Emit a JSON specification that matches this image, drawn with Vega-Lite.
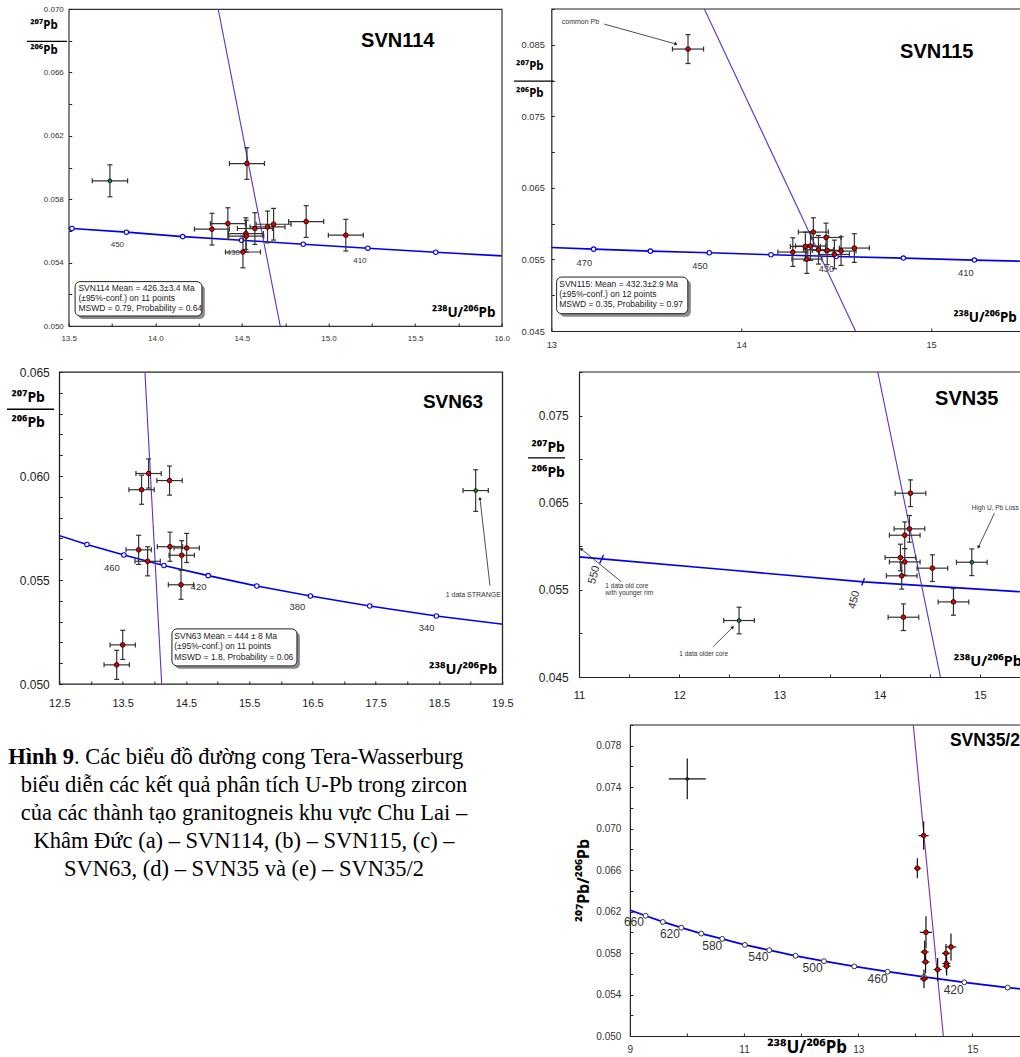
{
"$schema": "https://vega.github.io/schema/vega-lite/v6.json",
"padding": 0,
"background": "white",
"bounds": "full",
"align": "none",
"columns": 1,
"spacing": 0,
"config": {
  "font": "Liberation Sans",
  "view": {"stroke": "#222", "strokeWidth": 1.2},
  "axis": {"grid": false, "domain": false, "domainColor": "#222", "domainWidth": 1.2, "tickColor": "#222", "tickWidth": 1, "labelColor": "#333", "labelFont": "Liberation Sans", "titleFont": "Noto Sans", "titleColor": "#000", "labelOverlap": false, "labelFlush": false, "labelBound": false},
  "text": {"font": "Liberation Sans"}
},
"datasets": {
  "p114": [
    {"k":"other","x":13.738,"y":0.05916,"xlo":13.636,"xhi":13.84,"ylo":0.05815,"yhi":0.06017},
    {"k":"conc","x":14.529,"y":0.06025,"xlo":14.428,"xhi":14.63,"ylo":0.05925,"yhi":0.06125},
    {"k":"conc","x":14.327,"y":0.05611,"xlo":14.226,"xhi":14.428,"ylo":0.05511,"yhi":0.05711},
    {"k":"conc","x":14.419,"y":0.05646,"xlo":14.318,"xhi":14.52,"ylo":0.05546,"yhi":0.05746},
    {"k":"conc","x":14.523,"y":0.05583,"xlo":14.422,"xhi":14.624,"ylo":0.05483,"yhi":0.05683},
    {"k":"conc","x":14.525,"y":0.05567,"xlo":14.424,"xhi":14.626,"ylo":0.05467,"yhi":0.05667},
    {"k":"conc","x":14.506,"y":0.05467,"xlo":14.405,"xhi":14.607,"ylo":0.05367,"yhi":0.05567},
    {"k":"conc","x":14.575,"y":0.05615,"xlo":14.474,"xhi":14.676,"ylo":0.05515,"yhi":0.05715},
    {"k":"conc","x":14.648,"y":0.05625,"xlo":14.547,"xhi":14.749,"ylo":0.05525,"yhi":0.05725},
    {"k":"conc","x":14.683,"y":0.05642,"xlo":14.582,"xhi":14.784,"ylo":0.05542,"yhi":0.05742},
    {"k":"conc","x":14.871,"y":0.05659,"xlo":14.77,"xhi":14.972,"ylo":0.05559,"yhi":0.05759},
    {"k":"conc","x":15.1,"y":0.05573,"xlo":14.999,"xhi":15.201,"ylo":0.05473,"yhi":0.05673}
  ],
  "c114": [{"x":13.485,"y":0.05617},{"x":13.519,"y":0.05615},{"x":13.833,"y":0.05592},{"x":14.158,"y":0.05564},{"x":14.498,"y":0.05541},{"x":14.854,"y":0.05516},{"x":15.227,"y":0.05491},{"x":15.619,"y":0.05465},{"x":16.013,"y":0.05442}],
  "m114": [{"age":460,"x":13.519,"y":0.05615},{"age":450,"x":13.833,"y":0.05592},{"age":440,"x":14.158,"y":0.05564},{"age":430,"x":14.498,"y":0.05541},{"age":420,"x":14.854,"y":0.05516},{"age":410,"x":15.227,"y":0.05491},{"age":400,"x":15.619,"y":0.05465}],
  "p115": [
    {"k":"conc","x":13.72,"y":0.0844,"xlo":13.638,"xhi":13.802,"ylo":0.08238,"yhi":0.08642},
    {"k":"conc","x":14.272,"y":0.05603,"xlo":14.193,"xhi":14.351,"ylo":0.05403,"yhi":0.05803},
    {"k":"conc","x":14.338,"y":0.05681,"xlo":14.259,"xhi":14.417,"ylo":0.05481,"yhi":0.05881},
    {"k":"conc","x":14.365,"y":0.05687,"xlo":14.286,"xhi":14.444,"ylo":0.05487,"yhi":0.05887},
    {"k":"conc","x":14.38,"y":0.05882,"xlo":14.301,"xhi":14.459,"ylo":0.05682,"yhi":0.06082},
    {"k":"conc","x":14.346,"y":0.05505,"xlo":14.267,"xhi":14.425,"ylo":0.05305,"yhi":0.05705},
    {"k":"conc","x":14.407,"y":0.05635,"xlo":14.328,"xhi":14.486,"ylo":0.05435,"yhi":0.05835},
    {"k":"conc","x":14.447,"y":0.05807,"xlo":14.368,"xhi":14.526,"ylo":0.05607,"yhi":0.06007},
    {"k":"conc","x":14.453,"y":0.05626,"xlo":14.374,"xhi":14.532,"ylo":0.05426,"yhi":0.05826},
    {"k":"conc","x":14.491,"y":0.0557,"xlo":14.412,"xhi":14.57,"ylo":0.0537,"yhi":0.0577},
    {"k":"conc","x":14.526,"y":0.05617,"xlo":14.447,"xhi":14.605,"ylo":0.05417,"yhi":0.05817},
    {"k":"conc","x":14.596,"y":0.05659,"xlo":14.517,"xhi":14.675,"ylo":0.05459,"yhi":0.05859}
  ],
  "c115": [{"x":12.99,"y":0.05667},{"x":13.223,"y":0.05644},{"x":13.522,"y":0.05616},{"x":13.832,"y":0.05593},{"x":14.157,"y":0.05565},{"x":14.5,"y":0.05542},{"x":14.854,"y":0.05519},{"x":15.228,"y":0.05491},{"x":15.55,"y":0.0547}],
  "m115": [{"age":470,"x":13.223,"y":0.05644},{"age":460,"x":13.522,"y":0.05616},{"age":450,"x":13.832,"y":0.05593},{"age":440,"x":14.157,"y":0.05565},{"age":430,"x":14.5,"y":0.05542},{"age":420,"x":14.854,"y":0.05519},{"age":410,"x":15.228,"y":0.05491}],
  "p63": [
    {"k":"conc","x":13.911,"y":0.06012,"xlo":13.711,"xhi":14.111,"ylo":0.05942,"yhi":0.06082},
    {"k":"conc","x":13.8,"y":0.05934,"xlo":13.6,"xhi":14.0,"ylo":0.05864,"yhi":0.06004},
    {"k":"conc","x":14.242,"y":0.05978,"xlo":14.042,"xhi":14.442,"ylo":0.05908,"yhi":0.06048},
    {"k":"conc","x":13.754,"y":0.05645,"xlo":13.554,"xhi":13.954,"ylo":0.05575,"yhi":0.05715},
    {"k":"conc","x":13.896,"y":0.0559,"xlo":13.696,"xhi":14.096,"ylo":0.0552,"yhi":0.0566},
    {"k":"conc","x":14.249,"y":0.0566,"xlo":14.049,"xhi":14.449,"ylo":0.0559,"yhi":0.0573},
    {"k":"conc","x":14.513,"y":0.05654,"xlo":14.313,"xhi":14.713,"ylo":0.05584,"yhi":0.05724},
    {"k":"conc","x":14.434,"y":0.05619,"xlo":14.234,"xhi":14.634,"ylo":0.05549,"yhi":0.05689},
    {"k":"conc","x":14.423,"y":0.05477,"xlo":14.223,"xhi":14.623,"ylo":0.05407,"yhi":0.05547},
    {"k":"conc","x":13.502,"y":0.05188,"xlo":13.302,"xhi":13.702,"ylo":0.05118,"yhi":0.05258},
    {"k":"conc","x":13.407,"y":0.05092,"xlo":13.207,"xhi":13.607,"ylo":0.05022,"yhi":0.05162},
    {"k":"other","x":19.079,"y":0.0593,"xlo":18.879,"xhi":19.279,"ylo":0.0583,"yhi":0.0603}
  ],
  "c63": [{"x":12.474,"y":0.05716},{"x":12.937,"y":0.05671},{"x":13.521,"y":0.0562},{"x":14.153,"y":0.0557},{"x":14.853,"y":0.05521},{"x":15.621,"y":0.05471},{"x":16.468,"y":0.05423},{"x":17.405,"y":0.05375},{"x":18.458,"y":0.05327},{"x":19.526,"y":0.05287}],
  "m63": [{"age":480,"x":12.937,"y":0.05671},{"age":460,"x":13.521,"y":0.0562},{"age":440,"x":14.153,"y":0.0557},{"age":420,"x":14.853,"y":0.05521},{"age":400,"x":15.621,"y":0.05471},{"age":380,"x":16.468,"y":0.05423},{"age":360,"x":17.405,"y":0.05375},{"age":340,"x":18.458,"y":0.05327}],
  "p35": [
    {"k":"conc","x":14.307,"y":0.06609,"xlo":14.154,"xhi":14.46,"ylo":0.06456,"yhi":0.06762},
    {"k":"conc","x":14.297,"y":0.062,"xlo":14.144,"xhi":14.45,"ylo":0.06047,"yhi":0.06353},
    {"k":"conc","x":14.25,"y":0.06127,"xlo":14.097,"xhi":14.403,"ylo":0.05974,"yhi":0.0628},
    {"k":"conc","x":14.207,"y":0.05871,"xlo":14.054,"xhi":14.36,"ylo":0.05718,"yhi":0.06024},
    {"k":"conc","x":14.25,"y":0.05821,"xlo":14.097,"xhi":14.403,"ylo":0.05668,"yhi":0.05974},
    {"k":"conc","x":14.22,"y":0.05661,"xlo":14.067,"xhi":14.373,"ylo":0.05508,"yhi":0.05814},
    {"k":"conc","x":14.526,"y":0.05749,"xlo":14.373,"xhi":14.679,"ylo":0.05596,"yhi":0.05902},
    {"k":"conc","x":14.736,"y":0.05362,"xlo":14.583,"xhi":14.889,"ylo":0.05209,"yhi":0.05515},
    {"k":"conc","x":14.237,"y":0.05186,"xlo":14.084,"xhi":14.39,"ylo":0.05033,"yhi":0.05339},
    {"k":"other","x":14.919,"y":0.05817,"xlo":14.766,"xhi":15.072,"ylo":0.05664,"yhi":0.0597},
    {"k":"other","x":12.597,"y":0.05148,"xlo":12.444,"xhi":12.75,"ylo":0.04995,"yhi":0.05301}
  ],
  "c35": [{"x":10.97,"y":0.05882},{"x":11.226,"y":0.05856},{"x":12.5,"y":0.05727},{"x":13.838,"y":0.05592},{"x":15.411,"y":0.05477}],
  "p352": [
    {"k":"inh","x":10.005,"y":0.0748,"xlo":9.681,"xhi":10.329,"ylo":0.07283,"yhi":0.07677},
    {"k":"conc","x":14.146,"y":0.06933,"xlo":14.058,"xhi":14.234,"ylo":0.06796,"yhi":0.0707},
    {"k":"conc","x":14.036,"y":0.06618,"xlo":13.976,"xhi":14.096,"ylo":0.06522,"yhi":0.06714},
    {"k":"conc","x":14.187,"y":0.06,"xlo":14.079,"xhi":14.295,"ylo":0.05845,"yhi":0.06155},
    {"k":"conc","x":14.164,"y":0.0581,"xlo":14.094,"xhi":14.234,"ylo":0.057,"yhi":0.0592},
    {"k":"conc","x":14.18,"y":0.05714,"xlo":14.11,"xhi":14.25,"ylo":0.05604,"yhi":0.05824},
    {"k":"conc","x":14.152,"y":0.05551,"xlo":14.082,"xhi":14.222,"ylo":0.05461,"yhi":0.05641},
    {"k":"conc","x":14.391,"y":0.05641,"xlo":14.321,"xhi":14.461,"ylo":0.05529,"yhi":0.05753},
    {"k":"conc","x":14.537,"y":0.05798,"xlo":14.467,"xhi":14.607,"ylo":0.05708,"yhi":0.05888},
    {"k":"conc","x":14.544,"y":0.05699,"xlo":14.474,"xhi":14.614,"ylo":0.05609,"yhi":0.05789},
    {"k":"conc","x":14.549,"y":0.05673,"xlo":14.479,"xhi":14.619,"ylo":0.05583,"yhi":0.05763},
    {"k":"conc","x":14.625,"y":0.05859,"xlo":14.532,"xhi":14.718,"ylo":0.05729,"yhi":0.05989}
  ],
  "c352": [{"x":9.0,"y":0.06215},{"x":9.275,"y":0.0616},{"x":9.578,"y":0.061},{"x":9.9,"y":0.06045},{"x":10.25,"y":0.05988},{"x":10.618,"y":0.05937},{"x":11.015,"y":0.05879},{"x":11.442,"y":0.05828},{"x":11.903,"y":0.05774},{"x":12.4,"y":0.05722},{"x":12.931,"y":0.05671},{"x":13.515,"y":0.0562},{"x":14.152,"y":0.0557},{"x":14.859,"y":0.05518},{"x":15.618,"y":0.05467},{"x":15.9,"y":0.05452}],
  "m352": [{"age":660,"x":9.275,"y":0.0616},{"age":640,"x":9.578,"y":0.061},{"age":620,"x":9.9,"y":0.06045},{"age":600,"x":10.25,"y":0.05988},{"age":580,"x":10.618,"y":0.05937},{"age":560,"x":11.015,"y":0.05879},{"age":540,"x":11.442,"y":0.05828},{"age":520,"x":11.903,"y":0.05774},{"age":500,"x":12.4,"y":0.05722},{"age":480,"x":12.931,"y":0.05671},{"age":460,"x":13.515,"y":0.0562},{"age":440,"x":14.152,"y":0.0557},{"age":420,"x":14.859,"y":0.05518},{"age":400,"x":15.618,"y":0.05467}]
},
"concat": [
 {"bounds": "flush", "spacing": 66.7, "hconcat": [
  {"width": 1, "height": 1, "view": {"stroke": null}, "data": {"values": [{"a": 1}]}, "mark": {"type": "text", "text": ""}, "encoding": {}},
  {"bounds": "flush", "spacing": 49.6, "hconcat": [
   {"width": 433, "height": 317,
    "view": {"stroke": "#333", "strokeWidth": 1.2},
    "encoding": {
     "x": {"field": "x", "type": "quantitative", "scale": {"domain": [13.5, 16.0], "nice": false, "zero": false},
       "axis": {"values": [13.5,13.75,14,14.25,14.5,14.75,15,15.25,15.5,15.75,16], "format": ".1f", "labelExpr": "abs(datum.value*2-round(datum.value*2))<0.001 ? datum.label : ''", "tickSize": -3, "labelPadding": 11.7, "labelFontSize": 8, "title": null}},
     "y": {"field": "y", "type": "quantitative", "scale": {"domain": [0.05, 0.07], "nice": false, "zero": false},
       "axis": {"values": [0.05,0.052,0.054,0.056,0.058,0.06,0.062,0.064,0.066,0.068,0.07], "format": ".3f", "labelExpr": "indexof(['0.050','0.054','0.058','0.062','0.066','0.070'], datum.label) >= 0 ? datum.label : ''", "tickSize": -3, "labelPadding": 8.4, "labelFontSize": 8,
         "title": ["²⁰⁷Pb", "²⁰⁶Pb"], "titleAngle": 0, "titleAlign": "center", "titleBaseline": "middle", "titleX": -25.3, "titleY": 16, "titleFontSize": 11.5, "titleFontWeight": "bold", "titleLineHeight": 25.7}}
    },
    "layer": [
     {"data": {"values": [{"x":13.109,"y":0.070505,"y2":0.04817}]}, "mark": {"type": "rule", "strokeOpacity": 0, "color": "#fff"}, "encoding": {"y2": {"field": "y2"}}},
     {"data": {"name": "c114"}, "mark": {"type": "line", "color": "#0000ee", "strokeWidth": 1.6, "clip": true}},
     {"data": {"name": "m114"}, "mark": {"type": "point", "filled": true, "fill": "#ffffff", "stroke": "#0000ee", "strokeWidth": 1.1, "size": 20, "opacity": 1}},
     {"data": {"values": [{"t":"450","x":13.781,"y":0.05509},{"t":"430","x":14.45,"y":0.05459},{"t":"410","x":15.181,"y":0.05408}]}, "mark": {"type": "text", "fontSize": 8, "color": "#333"}, "encoding": {"text": {"field": "t"}}},
     {"data": {"values": [{"x":14.363,"y":0.07},{"x":14.725,"y":0.04979}]}, "mark": {"type": "line", "color": "#6030c8", "strokeWidth": 1.1, "clip": true}},
     {"data": {"name": "p114"}, "mark": {"type": "rule", "color": "#333", "strokeWidth": 1.2}, "encoding": {"x": {"field": "xlo", "type": "quantitative"}, "x2": {"field": "xhi"}}},
     {"data": {"name": "p114"}, "mark": {"type": "rule", "color": "#333", "strokeWidth": 1.2}, "encoding": {"y": {"field": "ylo", "type": "quantitative"}, "y2": {"field": "yhi"}}},
     {"data": {"name": "p114"}, "mark": {"type": "tick", "orient": "vertical", "size": 5, "thickness": 1.2, "color": "#333", "opacity": 1}, "encoding": {"x": {"field": "xlo", "type": "quantitative"}}},
     {"data": {"name": "p114"}, "mark": {"type": "tick", "orient": "vertical", "size": 5, "thickness": 1.2, "color": "#333", "opacity": 1}, "encoding": {"x": {"field": "xhi", "type": "quantitative"}}},
     {"data": {"name": "p114"}, "mark": {"type": "tick", "orient": "horizontal", "size": 5, "thickness": 1.2, "color": "#333", "opacity": 1}, "encoding": {"y": {"field": "ylo", "type": "quantitative"}}},
     {"data": {"name": "p114"}, "mark": {"type": "tick", "orient": "horizontal", "size": 5, "thickness": 1.2, "color": "#333", "opacity": 1}, "encoding": {"y": {"field": "yhi", "type": "quantitative"}}},
     {"data": {"name": "p114"}, "mark": {"type": "point", "filled": true, "stroke": "#000", "strokeWidth": 0.8, "opacity": 1},
      "encoding": {"fill": {"field": "k", "type": "nominal", "scale": {"domain": ["conc","other","inh"], "range": ["#e00000","#1a8f1a","#1a2ea8"]}, "legend": null},
                   "size": {"field": "k", "type": "ordinal", "scale": {"domain": ["conc","other","inh"], "range": [22,7,30]}, "legend": null}}},
     {"data": {"values": [{"t":"SVN114","x":15.4,"y":0.06796}]}, "mark": {"type": "text", "fontSize": 20, "fontWeight": "bold", "color": "#000"}, "encoding": {"text": {"field": "t"}}},
     {"data": {"values": [{"t":"²³⁸U/²⁰⁶Pb","x":15.781,"y":0.05084}]}, "mark": {"type": "text", "font": "Noto Sans", "fontSize": 13.5, "fontWeight": "bold", "color": "#000"}, "encoding": {"text": {"field": "t"}}},
     {"data": {"values": [{"x":13.554,"x2":14.286,"y":0.05044,"y2":0.05261}]}, "mark": {"type": "rect", "fill": "#8a8a8a", "cornerRadius": 5}, "encoding": {"x2": {"field": "x2"}, "y2": {"field": "y2"}}},
     {"data": {"values": [{"x":13.537,"x2":14.269,"y":0.05063,"y2":0.0528}]}, "mark": {"type": "rect", "fill": "#ffffff", "stroke": "#222", "strokeWidth": 1, "cornerRadius": 5}, "encoding": {"x2": {"field": "x2"}, "y2": {"field": "y2"}}},
     {"data": {"values": [{"t":"SVN114 Mean = 426.3±3.4 Ma","x":13.556,"y":0.05238},{"t":" (±95%-conf.) on 11 points","x":13.556,"y":0.05175},{"t":"MSWD = 0.79, Probability = 0.64","x":13.556,"y":0.05114}]}, "mark": {"type": "text", "align": "left", "fontSize": 8.5, "color": "#222"}, "encoding": {"text": {"field": "t"}}},
     {"data": {"values": [{"x":13.259,"x2":13.49,"y":0.06796}]}, "mark": {"type": "rule", "color": "#000", "strokeWidth": 1.2}, "encoding": {"x2": {"field": "x2"}}}
    ]
   },
   {"width": 469, "height": 322,
    "view": {"stroke": null},
    "encoding": {
     "x": {"field": "x", "type": "quantitative", "scale": {"domain": [13, 15.47], "nice": false, "zero": false},
       "axis": {"values": [13,14,15], "format": "d", "tickSize": -3, "labelPadding": 12, "labelFontSize": 9.3, "domain": true, "title": null}},
     "y": {"field": "y", "type": "quantitative", "scale": {"domain": [0.045, 0.09], "nice": false, "zero": false},
       "axis": {"values": [0.045,0.05,0.055,0.06,0.065,0.07,0.075,0.08,0.085,0.09], "format": ".3f", "labelExpr": "indexof(['0.045','0.055','0.065','0.075','0.085'], datum.label) >= 0 ? datum.label : ''", "tickSize": -3, "labelPadding": 10, "labelFontSize": 9.3, "domain": true,
         "title": ["²⁰⁷Pb", "²⁰⁶Pb"], "titleAngle": 0, "titleAlign": "center", "titleBaseline": "middle", "titleX": -22, "titleY": 57.7, "titleFontSize": 11.5, "titleFontWeight": "bold", "titleLineHeight": 26.6}}
    },
    "layer": [
     {"data": {"values": [{"x":13,"x2":15.47,"y":0.09}]}, "mark": {"type": "rule", "color": "#222", "strokeWidth": 1.2}, "encoding": {"x2": {"field": "x2"}}},
     {"data": {"name": "c115"}, "mark": {"type": "line", "color": "#0000ee", "strokeWidth": 1.6, "clip": true}},
     {"data": {"name": "m115"}, "mark": {"type": "point", "filled": true, "fill": "#ffffff", "stroke": "#0000ee", "strokeWidth": 1.1, "size": 20, "opacity": 1}},
     {"data": {"values": [{"t":"470","x":13.174,"y":0.05453},{"t":"450","x":13.783,"y":0.05402},{"t":"430","x":14.449,"y":0.0536},{"t":"410","x":15.183,"y":0.05305}]}, "mark": {"type": "text", "fontSize": 9.3, "color": "#333"}, "encoding": {"text": {"field": "t"}}},
     {"data": {"values": [{"x":13.806,"y":0.09},{"x":14.602,"y":0.045}]}, "mark": {"type": "line", "color": "#6030c8", "strokeWidth": 1.1, "clip": true}},
     {"data": {"name": "p115"}, "mark": {"type": "rule", "color": "#333", "strokeWidth": 1.2}, "encoding": {"x": {"field": "xlo", "type": "quantitative"}, "x2": {"field": "xhi"}}},
     {"data": {"name": "p115"}, "mark": {"type": "rule", "color": "#333", "strokeWidth": 1.2}, "encoding": {"y": {"field": "ylo", "type": "quantitative"}, "y2": {"field": "yhi"}}},
     {"data": {"name": "p115"}, "mark": {"type": "tick", "orient": "vertical", "size": 5, "thickness": 1.2, "color": "#333", "opacity": 1}, "encoding": {"x": {"field": "xlo", "type": "quantitative"}}},
     {"data": {"name": "p115"}, "mark": {"type": "tick", "orient": "vertical", "size": 5, "thickness": 1.2, "color": "#333", "opacity": 1}, "encoding": {"x": {"field": "xhi", "type": "quantitative"}}},
     {"data": {"name": "p115"}, "mark": {"type": "tick", "orient": "horizontal", "size": 5, "thickness": 1.2, "color": "#333", "opacity": 1}, "encoding": {"y": {"field": "ylo", "type": "quantitative"}}},
     {"data": {"name": "p115"}, "mark": {"type": "tick", "orient": "horizontal", "size": 5, "thickness": 1.2, "color": "#333", "opacity": 1}, "encoding": {"y": {"field": "yhi", "type": "quantitative"}}},
     {"data": {"name": "p115"}, "mark": {"type": "point", "filled": true, "stroke": "#000", "strokeWidth": 0.8, "opacity": 1},
      "encoding": {"fill": {"field": "k", "type": "nominal", "scale": {"domain": ["conc","other","inh"], "range": ["#e00000","#1a8f1a","#1a2ea8"]}, "legend": null},
                   "size": {"field": "k", "type": "ordinal", "scale": {"domain": ["conc","other","inh"], "range": [24,7,30]}, "legend": null}}},
     {"data": {"values": [{"t":"SVN115","x":15.03,"y":0.08393}]}, "mark": {"type": "text", "fontSize": 20, "fontWeight": "bold", "color": "#000"}, "encoding": {"text": {"field": "t"}}},
     {"data": {"values": [{"t":"²³⁸U/²⁰⁶Pb","x":15.285,"y":0.04687}]}, "mark": {"type": "text", "font": "Noto Sans", "fontSize": 13.5, "fontWeight": "bold", "color": "#000"}, "encoding": {"text": {"field": "t"}}},
     {"data": {"values": [{"x":13.044,"x2":13.735,"y":0.047,"y2":0.05212}]}, "mark": {"type": "rect", "fill": "#8a8a8a", "cornerRadius": 5}, "encoding": {"x2": {"field": "x2"}, "y2": {"field": "y2"}}},
     {"data": {"values": [{"x":13.028,"x2":13.719,"y":0.04742,"y2":0.05254}]}, "mark": {"type": "rect", "fill": "#ffffff", "stroke": "#222", "strokeWidth": 1, "cornerRadius": 5}, "encoding": {"x2": {"field": "x2"}, "y2": {"field": "y2"}}},
     {"data": {"values": [{"t":"SVN115: Mean = 432.3±2.9 Ma","x":13.042,"y":0.05161},{"t":"(±95%-conf.) on 12 points","x":13.042,"y":0.05022},{"t":"MSWD = 0.35, Probability = 0.97","x":13.042,"y":0.04872}]}, "mark": {"type": "text", "align": "left", "fontSize": 8.5, "color": "#222"}, "encoding": {"text": {"field": "t"}}},
     {"data": {"values": [{"t":"common Pb","x":13.055,"y":0.08812}]}, "mark": {"type": "text", "align": "left", "fontSize": 7, "color": "#333"}, "encoding": {"text": {"field": "t"}}},
     {"data": {"values": [{"x":13.279,"y":0.08789,"x2":13.657,"y2":0.0851}]}, "mark": {"type": "rule", "color": "#222", "strokeWidth": 0.8}, "encoding": {"x2": {"field": "x2"}, "y2": {"field": "y2"}}},
     {"data": {"values": [{"x":13.657,"y":0.0851}]}, "mark": {"type": "point", "shape": "triangle-up", "angle": 106, "size": 14, "filled": true, "color": "#222", "opacity": 1}},
     {"data": {"values": [{"x":12.803,"x2":13.013,"y":0.07993}]}, "mark": {"type": "rule", "color": "#000", "strokeWidth": 1.2}, "encoding": {"x2": {"field": "x2"}}}
    ]
   }
  ]}
 ]},
 {"bounds": "flush", "spacing": 57.3, "hconcat": [
  {"width": 1, "height": 1, "view": {"stroke": null}, "data": {"values": [{"a": 1}]}, "mark": {"type": "text", "text": ""}, "encoding": {}},
  {"bounds": "flush", "spacing": 76.7, "hconcat": [
   {"width": 443, "height": 312,
    "view": {"stroke": "#222", "strokeWidth": 1.3},
    "encoding": {
     "x": {"field": "x", "type": "quantitative", "scale": {"domain": [12.5, 19.5], "nice": false, "zero": false},
       "axis": {"values": [12.5,13,13.5,14,14.5,15,15.5,16,16.5,17,17.5,18,18.5,19,19.5], "format": ".1f", "labelExpr": "abs((datum.value-12.5)-round(datum.value-12.5))<0.01 ? datum.label : ''", "tickSize": -3, "labelPadding": 16, "labelFontSize": 11, "labelColor": "#222", "title": null}},
     "y": {"field": "y", "type": "quantitative", "scale": {"domain": [0.05, 0.065], "nice": false, "zero": false},
       "axis": {"values": [0.05,0.051,0.052,0.053,0.054,0.055,0.056,0.057,0.058,0.059,0.06,0.061,0.062,0.063,0.064,0.065], "format": ".3f", "labelExpr": "indexof(['0.050','0.055','0.060','0.065'], datum.label) >= 0 ? datum.label : ''", "tickSize": -3, "labelPadding": 13, "labelFontSize": 12, "labelColor": "#222",
         "title": ["²⁰⁷Pb", "²⁰⁶Pb"], "titleAngle": 0, "titleAlign": "center", "titleBaseline": "middle", "titleX": -31.6, "titleY": 25, "titleFontSize": 14, "titleFontWeight": "bold", "titleLineHeight": 25}}
    },
    "layer": [
     {"data": {"values": [{"x":11.579,"y":0.065721,"y2":0.048702}]}, "mark": {"type": "rule", "strokeOpacity": 0, "color": "#fff"}, "encoding": {"y2": {"field": "y2"}}},
     {"data": {"name": "c63"}, "mark": {"type": "line", "color": "#0000ee", "strokeWidth": 1.6, "clip": true}},
     {"data": {"name": "m63"}, "mark": {"type": "point", "filled": true, "fill": "#ffffff", "stroke": "#0000ee", "strokeWidth": 1.1, "size": 20, "opacity": 1}},
     {"data": {"values": [{"t":"460","x":13.332,"y":0.05559},{"t":"420","x":14.7,"y":0.05468},{"t":"380","x":16.263,"y":0.05372},{"t":"340","x":18.305,"y":0.05271}]}, "mark": {"type": "text", "fontSize": 9.5, "color": "#333"}, "encoding": {"text": {"field": "t"}}},
     {"data": {"values": [{"x":13.853,"y":0.065},{"x":14.118,"y":0.05}]}, "mark": {"type": "line", "color": "#6030c8", "strokeWidth": 1.1, "clip": true}},
     {"data": {"name": "p63"}, "mark": {"type": "rule", "color": "#333", "strokeWidth": 1.2}, "encoding": {"x": {"field": "xlo", "type": "quantitative"}, "x2": {"field": "xhi"}}},
     {"data": {"name": "p63"}, "mark": {"type": "rule", "color": "#333", "strokeWidth": 1.2}, "encoding": {"y": {"field": "ylo", "type": "quantitative"}, "y2": {"field": "yhi"}}},
     {"data": {"name": "p63"}, "mark": {"type": "tick", "orient": "vertical", "size": 5, "thickness": 1.2, "color": "#333", "opacity": 1}, "encoding": {"x": {"field": "xlo", "type": "quantitative"}}},
     {"data": {"name": "p63"}, "mark": {"type": "tick", "orient": "vertical", "size": 5, "thickness": 1.2, "color": "#333", "opacity": 1}, "encoding": {"x": {"field": "xhi", "type": "quantitative"}}},
     {"data": {"name": "p63"}, "mark": {"type": "tick", "orient": "horizontal", "size": 5, "thickness": 1.2, "color": "#333", "opacity": 1}, "encoding": {"y": {"field": "ylo", "type": "quantitative"}}},
     {"data": {"name": "p63"}, "mark": {"type": "tick", "orient": "horizontal", "size": 5, "thickness": 1.2, "color": "#333", "opacity": 1}, "encoding": {"y": {"field": "yhi", "type": "quantitative"}}},
     {"data": {"name": "p63"}, "mark": {"type": "point", "filled": true, "stroke": "#000", "strokeWidth": 0.8, "opacity": 1},
      "encoding": {"fill": {"field": "k", "type": "nominal", "scale": {"domain": ["conc","other","inh"], "range": ["#e00000","#1a8f1a","#1a2ea8"]}, "legend": null},
                   "size": {"field": "k", "type": "ordinal", "scale": {"domain": ["conc","other","inh"], "range": [16,10,30]}, "legend": null}}},
     {"data": {"values": [{"t":"SVN63","x":18.721,"y":0.06356}]}, "mark": {"type": "text", "fontSize": 19, "fontWeight": "bold", "color": "#000"}, "encoding": {"text": {"field": "t"}}},
     {"data": {"values": [{"t":"²³⁸U/²⁰⁶Pb","x":18.88,"y":0.05068}]}, "mark": {"type": "text", "font": "Noto Sans", "fontSize": 14.5, "fontWeight": "bold", "color": "#000"}, "encoding": {"text": {"field": "t"}}},
     {"data": {"values": [{"x":14.327,"x2":16.302,"y":0.05073,"y2":0.05251}]}, "mark": {"type": "rect", "fill": "#8a8a8a", "cornerRadius": 5}, "encoding": {"x2": {"field": "x2"}, "y2": {"field": "y2"}}},
     {"data": {"values": [{"x":14.28,"x2":16.255,"y":0.05087,"y2":0.05265}]}, "mark": {"type": "rect", "fill": "#ffffff", "stroke": "#222", "strokeWidth": 1, "cornerRadius": 5}, "encoding": {"x2": {"field": "x2"}, "y2": {"field": "y2"}}},
     {"data": {"values": [{"t":"SVN63 Mean = 444 ± 8 Ma","x":14.317,"y":0.05231},{"t":"(±95%-conf.) on 11 points","x":14.317,"y":0.05182},{"t":"MSWD = 1.8, Probability = 0.06","x":14.317,"y":0.0513}]}, "mark": {"type": "text", "align": "left", "fontSize": 8.5, "color": "#222"}, "encoding": {"text": {"field": "t"}}},
     {"data": {"values": [{"t":"1 data STRANGE","x":19.042,"y":0.0543}]}, "mark": {"type": "text", "fontSize": 7, "color": "#333"}, "encoding": {"text": {"field": "t"}}},
     {"data": {"values": [{"x":19.305,"y":0.05473,"x2":19.147,"y2":0.05892}]}, "mark": {"type": "rule", "color": "#222", "strokeWidth": 0.8}, "encoding": {"x2": {"field": "x2"}, "y2": {"field": "y2"}}},
     {"data": {"values": [{"x":19.147,"y":0.05892}]}, "mark": {"type": "point", "shape": "triangle-up", "angle": 353.5, "size": 14, "filled": true, "color": "#222", "opacity": 1}},
     {"data": {"values": [{"x":11.674,"x2":12.416,"y":0.06321}]}, "mark": {"type": "rule", "color": "#000", "strokeWidth": 1.3}, "encoding": {"x2": {"field": "x2"}}}
    ]
   },
   {"width": 441, "height": 305,
    "view": {"stroke": null},
    "encoding": {
     "x": {"field": "x", "type": "quantitative", "scale": {"domain": [11, 15.4], "nice": false, "zero": false},
       "axis": {"values": [11,11.5,12,12.5,13,13.5,14,14.5,15], "labelExpr": "abs(datum.value-round(datum.value))<0.01 ? format(datum.value,'d') : ''", "tickSize": -3, "labelPadding": 15.5, "labelFontSize": 11, "labelColor": "#222", "domain": true, "title": null}},
     "y": {"field": "y", "type": "quantitative", "scale": {"domain": [0.045, 0.08], "nice": false, "zero": false},
       "axis": {"values": [0.045,0.05,0.055,0.06,0.065,0.07,0.075,0.08], "format": ".3f", "labelExpr": "indexof(['0.045','0.055','0.065','0.075'], datum.label) >= 0 ? datum.label : ''", "tickSize": -3, "labelPadding": 13.7, "labelFontSize": 12, "labelColor": "#222", "domain": true,
         "title": ["²⁰⁷Pb", "²⁰⁶Pb"], "titleAngle": 0, "titleAlign": "center", "titleBaseline": "middle", "titleX": -31.3, "titleY": 75, "titleFontSize": 14, "titleFontWeight": "bold", "titleLineHeight": 25}}
    },
    "layer": [
     {"data": {"values": [{"x":11,"x2":15.4,"y":0.08}]}, "mark": {"type": "rule", "color": "#222", "strokeWidth": 1.2}, "encoding": {"x2": {"field": "x2"}}},
     {"data": {"name": "c35"}, "mark": {"type": "line", "color": "#0000ee", "strokeWidth": 1.6, "clip": true}},
     {"data": {"values": [{"x":11.206,"y":0.05802,"x2":11.246,"y2":0.05902},{"x":13.821,"y":0.0555,"x2":13.848,"y2":0.05634}]}, "mark": {"type": "rule", "color": "#0000ee", "strokeWidth": 1.4}, "encoding": {"x2": {"field": "x2"}, "y2": {"field": "y2"}}},
     {"data": {"values": [{"t":"550","x":11.153,"y":0.05672},{"t":"450","x":13.748,"y":0.05385}]}, "mark": {"type": "text", "fontSize": 11, "angle": 285, "color": "#333"}, "encoding": {"text": {"field": "t"}}},
     {"data": {"values": [{"x":13.981,"y":0.08},{"x":14.606,"y":0.045}]}, "mark": {"type": "line", "color": "#6030c8", "strokeWidth": 1.1, "clip": true}},
     {"data": {"name": "p35"}, "mark": {"type": "rule", "color": "#333", "strokeWidth": 1.2}, "encoding": {"x": {"field": "xlo", "type": "quantitative"}, "x2": {"field": "xhi"}}},
     {"data": {"name": "p35"}, "mark": {"type": "rule", "color": "#333", "strokeWidth": 1.2}, "encoding": {"y": {"field": "ylo", "type": "quantitative"}, "y2": {"field": "yhi"}}},
     {"data": {"name": "p35"}, "mark": {"type": "tick", "orient": "vertical", "size": 5, "thickness": 1.2, "color": "#333", "opacity": 1}, "encoding": {"x": {"field": "xlo", "type": "quantitative"}}},
     {"data": {"name": "p35"}, "mark": {"type": "tick", "orient": "vertical", "size": 5, "thickness": 1.2, "color": "#333", "opacity": 1}, "encoding": {"x": {"field": "xhi", "type": "quantitative"}}},
     {"data": {"name": "p35"}, "mark": {"type": "tick", "orient": "horizontal", "size": 5, "thickness": 1.2, "color": "#333", "opacity": 1}, "encoding": {"y": {"field": "ylo", "type": "quantitative"}}},
     {"data": {"name": "p35"}, "mark": {"type": "tick", "orient": "horizontal", "size": 5, "thickness": 1.2, "color": "#333", "opacity": 1}, "encoding": {"y": {"field": "yhi", "type": "quantitative"}}},
     {"data": {"name": "p35"}, "mark": {"type": "point", "filled": true, "stroke": "#000", "strokeWidth": 0.8, "opacity": 1},
      "encoding": {"fill": {"field": "k", "type": "nominal", "scale": {"domain": ["conc","other","inh"], "range": ["#e00000","#1a8f1a","#1a2ea8"]}, "legend": null},
                   "size": {"field": "k", "type": "ordinal", "scale": {"domain": ["conc","other","inh"], "range": [22,7,30]}, "legend": null}}},
     {"data": {"values": [{"t":"SVN35","x":14.869,"y":0.07691}]}, "mark": {"type": "text", "fontSize": 20, "fontWeight": "bold", "color": "#000"}, "encoding": {"text": {"field": "t"}}},
     {"data": {"values": [{"t":"²³⁸U/²⁰⁶Pb","x":14.74,"y":0.04674}]}, "mark": {"type": "text", "font": "Noto Sans", "align": "left", "fontSize": 14.5, "fontWeight": "bold", "color": "#000", "clip": true}, "encoding": {"text": {"field": "t"}}},
     {"data": {"values": [{"t":"High U, Pb Loss","x":14.919,"y":0.06445},{"t":"1 data old core","x":11.263,"y":0.0555},{"t":"with younger rim","x":11.263,"y":0.05462},{"t":"1 data older core","x":12.001,"y":0.04762}]}, "mark": {"type": "text", "align": "left", "fontSize": 6.5, "color": "#333", "clip": true}, "encoding": {"text": {"field": "t"}}},
     {"data": {"values": [{"x":15.145,"y":0.0638,"x2":14.985,"y2":0.0599},{"x":11.419,"y":0.05596,"x2":11.02,"y2":0.0597},{"x":12.341,"y":0.0485,"x2":12.534,"y2":0.05072}]}, "mark": {"type": "rule", "color": "#222", "strokeWidth": 0.8}, "encoding": {"x2": {"field": "x2"}, "y2": {"field": "y2"}}},
     {"data": {"values": [{"x":14.985,"y":0.0599}]}, "mark": {"type": "point", "shape": "triangle-up", "angle": 205, "size": 14, "filled": true, "color": "#222", "opacity": 1}},
     {"data": {"values": [{"x":11.02,"y":0.0597}]}, "mark": {"type": "point", "shape": "triangle-up", "angle": 309, "size": 14, "filled": true, "color": "#222", "opacity": 1}},
     {"data": {"values": [{"x":12.534,"y":0.05072}]}, "mark": {"type": "point", "shape": "triangle-up", "angle": 45, "size": 14, "filled": true, "color": "#222", "opacity": 1}},
     {"data": {"values": [{"x":10.491,"x2":10.86,"y":0.07014}]}, "mark": {"type": "rule", "color": "#000", "strokeWidth": 1.3}, "encoding": {"x2": {"field": "x2"}}}
    ]
   }
  ]}
 ]},
 {"bounds": "flush", "spacing": 57.3, "hconcat": [
  {"width": 1, "height": 1, "view": {"stroke": null}, "data": {"values": [{"a": 1}]}, "mark": {"type": "text", "text": ""}, "encoding": {}},
  {"bounds": "flush", "spacing": 200.6, "hconcat": [
   {"width": 369.4, "height": 140,
    "view": {"stroke": null},
    "encoding": {
     "y": {"field": "line", "type": "quantitative", "scale": {"domain": [-0.393, 4.607], "reverse": true, "nice": false, "zero": false}, "axis": null},
     "text": {"field": "t"}
    },
    "layer": [
     {"data": {"values": [{"t":"Hình 9","line":1}]}, "mark": {"type": "text", "font": "Liberation Serif", "fontSize": 22.5, "fontWeight": "bold", "align": "right", "baseline": "alphabetic", "dx": -170, "color": "#000"}},
     {"data": {"values": [{"t":". Các biểu đồ đường cong Tera-Wasserburg","line":1}]}, "mark": {"type": "text", "font": "Liberation Serif", "fontSize": 22.5, "align": "left", "baseline": "alphabetic", "dx": -170, "color": "#000"}},
     {"data": {"values": [
       {"t":"biểu diễn các kết quả phân tích U-Pb trong zircon","line":2},
       {"t":"của các thành tạo granitogneis khu vực Chu Lai –","line":3},
       {"t":"Khâm Đức (a) – SVN114, (b) – SVN115, (c) –","line":4},
       {"t":"SVN63, (d) – SVN35 và (e) – SVN35/2","line":5}
      ]}, "mark": {"type": "text", "font": "Liberation Serif", "fontSize": 22.5, "align": "center", "baseline": "alphabetic", "color": "#000"}}
    ]
   },
   {"width": 391, "height": 311,
    "view": {"stroke": null},
    "encoding": {
     "x": {"field": "x", "type": "quantitative", "scale": {"domain": [9, 15.85], "nice": false, "zero": false},
       "axis": {"values": [9,10,11,12,13,14,15], "format": "d", "labelExpr": "datum.value % 2 == 1 ? datum.label : ''", "tickSize": -3, "labelPadding": 11.2, "labelFontSize": 10, "domain": true,
         "title": "²³⁸U/²⁰⁶Pb", "titleX": 176.7, "titleY": 16, "titleAlign": "center", "titleBaseline": "alphabetic", "titleFontSize": 17, "titleFontWeight": "bold"}},
     "y": {"field": "y", "type": "quantitative", "scale": {"domain": [0.05, 0.08], "nice": false, "zero": false},
       "axis": {"values": [0.05,0.052,0.054,0.056,0.058,0.06,0.062,0.064,0.066,0.068,0.07,0.072,0.074,0.076,0.078,0.08], "format": ".3f", "labelExpr": "indexof(['0.050','0.054','0.058','0.062','0.066','0.070','0.074','0.078'], datum.label) >= 0 ? datum.label : ''", "tickSize": -3, "labelPadding": 12, "labelFontSize": 10, "domain": true,
         "title": "²⁰⁷Pb/²⁰⁶Pb", "titleAngle": 270, "titleX": -46, "titleY": 155, "titleAlign": "center", "titleBaseline": "middle", "titleFontSize": 16, "titleFontWeight": "bold"}}
    },
    "layer": [
     {"data": {"values": [{"x":-2.007,"y":0.081158,"y2":0.048168}]}, "mark": {"type": "rule", "strokeOpacity": 0, "color": "#fff"}, "encoding": {"y2": {"field": "y2"}}},
     {"data": {"values": [{"x":9,"x2":15.85,"y":0.08}]}, "mark": {"type": "rule", "color": "#222", "strokeWidth": 1.2}, "encoding": {"x2": {"field": "x2"}}},
     {"data": {"name": "c352"}, "mark": {"type": "line", "color": "#0000ee", "strokeWidth": 1.8, "clip": true}},
     {"data": {"name": "m352"}, "mark": {"type": "point", "filled": true, "fill": "#ffffff", "stroke": "#333", "strokeWidth": 1, "size": 24, "opacity": 1}},
     {"data": {"values": [{"t":"660","x":9.07,"y":0.06099},{"t":"620","x":9.701,"y":0.05981},{"t":"580","x":10.443,"y":0.05868},{"t":"540","x":11.25,"y":0.05763},{"t":"500","x":12.201,"y":0.0566},{"t":"460","x":13.34,"y":0.05548},{"t":"420","x":14.672,"y":0.05442}]}, "mark": {"type": "text", "fontSize": 12, "color": "#333"}, "encoding": {"text": {"field": "t"}}},
     {"data": {"values": [{"x":13.965,"y":0.08},{"x":14.491,"y":0.05}]}, "mark": {"type": "line", "color": "#7b2cb0", "strokeWidth": 1.1, "clip": true}},
     {"data": {"name": "p352"}, "mark": {"type": "rule", "color": "#111", "strokeWidth": 1.2}, "encoding": {"x": {"field": "xlo", "type": "quantitative"}, "x2": {"field": "xhi"}}},
     {"data": {"name": "p352"}, "mark": {"type": "rule", "color": "#111", "strokeWidth": 1.2}, "encoding": {"y": {"field": "ylo", "type": "quantitative"}, "y2": {"field": "yhi"}}},
     {"data": {"name": "p352"}, "mark": {"type": "point", "filled": true, "stroke": "#000", "strokeWidth": 0.8, "opacity": 1},
      "encoding": {"fill": {"field": "k", "type": "nominal", "scale": {"domain": ["conc","other","inh"], "range": ["#e00000","#1a8f1a","#1a2ea8"]}, "legend": null},
                   "size": {"field": "k", "type": "ordinal", "scale": {"domain": ["conc","other","inh"], "range": [36,10,40]}, "legend": null}}},
     {"data": {"values": [{"t":"SVN35/2","x":15.22,"y":0.07846}]}, "mark": {"type": "text", "fontSize": 17.5, "fontWeight": "bold", "color": "#000", "clip": true}, "encoding": {"text": {"field": "t"}}}
    ]
   }
  ]}
 ]}
]
}
